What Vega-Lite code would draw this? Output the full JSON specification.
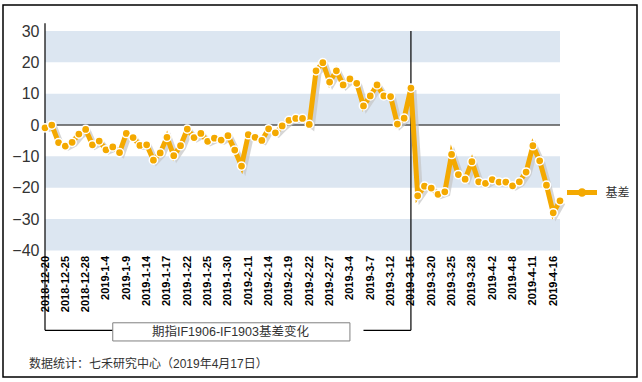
{
  "$schema": "https://vega.github.io/schema/vega-lite/v6.json",
  "width": 634,
  "height": 372,
  "autosize": "none",
  "padding": {"left": 3, "top": 5, "right": 5, "bottom": 5},
  "config": {
    "view": {"stroke": "#000000", "strokeWidth": 1.5},
    "font": "Liberation Sans, Noto Sans CJK SC",
    "axis": {"labelOverlap": false, "labelFont": "Liberation Sans"}
  },
  "datasets": {
    "basis": [
      {"date": "2018-12-20", "value": -0.9}, {"date": "2018-12-21", "value": 0.0}, {"date": "2018-12-24", "value": -5.6},
      {"date": "2018-12-25", "value": -6.7}, {"date": "2018-12-26", "value": -5.5}, {"date": "2018-12-27", "value": -2.9},
      {"date": "2018-12-28", "value": -1.4}, {"date": "2019-1-2", "value": -6.3}, {"date": "2019-1-3", "value": -5.1},
      {"date": "2019-1-4", "value": -7.9}, {"date": "2019-1-7", "value": -7.0}, {"date": "2019-1-8", "value": -8.8},
      {"date": "2019-1-9", "value": -2.7}, {"date": "2019-1-10", "value": -4.0}, {"date": "2019-1-11", "value": -6.5},
      {"date": "2019-1-14", "value": -6.3}, {"date": "2019-1-15", "value": -11.2}, {"date": "2019-1-16", "value": -8.9},
      {"date": "2019-1-17", "value": -3.9}, {"date": "2019-1-18", "value": -9.8}, {"date": "2019-1-21", "value": -6.6},
      {"date": "2019-1-22", "value": -1.3}, {"date": "2019-1-23", "value": -4.0}, {"date": "2019-1-24", "value": -2.7},
      {"date": "2019-1-25", "value": -5.2}, {"date": "2019-1-28", "value": -4.2}, {"date": "2019-1-29", "value": -4.8},
      {"date": "2019-1-30", "value": -3.4}, {"date": "2019-1-31", "value": -8.0}, {"date": "2019-2-1", "value": -13.1},
      {"date": "2019-2-11", "value": -3.1}, {"date": "2019-2-12", "value": -3.9}, {"date": "2019-2-13", "value": -4.9},
      {"date": "2019-2-14", "value": -1.2}, {"date": "2019-2-15", "value": -2.5}, {"date": "2019-2-18", "value": -0.3},
      {"date": "2019-2-19", "value": 1.5}, {"date": "2019-2-20", "value": 2.1}, {"date": "2019-2-21", "value": 2.1},
      {"date": "2019-2-22", "value": 0.2}, {"date": "2019-2-25", "value": 17.3}, {"date": "2019-2-26", "value": 19.9},
      {"date": "2019-2-27", "value": 13.7}, {"date": "2019-2-28", "value": 17.3}, {"date": "2019-3-1", "value": 12.8},
      {"date": "2019-3-4", "value": 14.7}, {"date": "2019-3-5", "value": 13.3}, {"date": "2019-3-6", "value": 6.1},
      {"date": "2019-3-7", "value": 9.3}, {"date": "2019-3-8", "value": 12.8}, {"date": "2019-3-11", "value": 9.3},
      {"date": "2019-3-12", "value": 9.1}, {"date": "2019-3-13", "value": 0.3}, {"date": "2019-3-14", "value": 2.2},
      {"date": "2019-3-15", "value": 11.8}, {"date": "2019-3-18", "value": -22.6}, {"date": "2019-3-19", "value": -19.5},
      {"date": "2019-3-20", "value": -20.1}, {"date": "2019-3-21", "value": -22.1}, {"date": "2019-3-22", "value": -21.3},
      {"date": "2019-3-25", "value": -9.4}, {"date": "2019-3-26", "value": -15.8}, {"date": "2019-3-27", "value": -17.3},
      {"date": "2019-3-28", "value": -11.7}, {"date": "2019-3-29", "value": -18.1}, {"date": "2019-4-1", "value": -18.6},
      {"date": "2019-4-2", "value": -17.4}, {"date": "2019-4-3", "value": -18.2}, {"date": "2019-4-4", "value": -18.2},
      {"date": "2019-4-8", "value": -19.4}, {"date": "2019-4-9", "value": -18.1}, {"date": "2019-4-10", "value": -15.0},
      {"date": "2019-4-11", "value": -6.6}, {"date": "2019-4-12", "value": -11.4}, {"date": "2019-4-15", "value": -19.2},
      {"date": "2019-4-16", "value": -28.0}, {"date": "2019-4-17", "value": -24.2}
    ],
    "bands": [
      {"lo": 20, "hi": 30}, {"lo": 0, "hi": 10}, {"lo": -20, "hi": -10}, {"lo": -40, "hi": -30}
    ]
  },
  "layer": [
    {
      "layer": [
        {
          "data": {"name": "bands"},
          "mark": {"type": "rect", "fill": "#DCE6F1"},
          "encoding": {
            "x": {
              "datum": "2018-12-20", "type": "nominal",
              "scale": {
                "type": "point", "padding": 0, "range": [42, 557],
                "domain": ["2018-12-20","2018-12-21","2018-12-24","2018-12-25","2018-12-26","2018-12-27","2018-12-28","2019-1-2","2019-1-3","2019-1-4","2019-1-7","2019-1-8","2019-1-9","2019-1-10","2019-1-11","2019-1-14","2019-1-15","2019-1-16","2019-1-17","2019-1-18","2019-1-21","2019-1-22","2019-1-23","2019-1-24","2019-1-25","2019-1-28","2019-1-29","2019-1-30","2019-1-31","2019-2-1","2019-2-11","2019-2-12","2019-2-13","2019-2-14","2019-2-15","2019-2-18","2019-2-19","2019-2-20","2019-2-21","2019-2-22","2019-2-25","2019-2-26","2019-2-27","2019-2-28","2019-3-1","2019-3-4","2019-3-5","2019-3-6","2019-3-7","2019-3-8","2019-3-11","2019-3-12","2019-3-13","2019-3-14","2019-3-15","2019-3-18","2019-3-19","2019-3-20","2019-3-21","2019-3-22","2019-3-25","2019-3-26","2019-3-27","2019-3-28","2019-3-29","2019-4-1","2019-4-2","2019-4-3","2019-4-4","2019-4-8","2019-4-9","2019-4-10","2019-4-11","2019-4-12","2019-4-15","2019-4-16","2019-4-17"]
              },
              "axis": {
                "orient": "bottom", "offset": -126.6, "title": null,
                "values": ["2018-12-20","2018-12-25","2018-12-28","2019-1-4","2019-1-9","2019-1-14","2019-1-17","2019-1-22","2019-1-25","2019-1-30","2019-2-11","2019-2-14","2019-2-19","2019-2-22","2019-2-27","2019-3-4","2019-3-7","2019-3-12","2019-3-15","2019-3-20","2019-3-25","2019-3-28","2019-4-2","2019-4-8","2019-4-11","2019-4-16"],
                "labelAngle": -90, "labelFontSize": 11, "labelFontWeight": "bold", "labelColor": "#000000",
                "labelPadding": 5, "domain": false, "ticks": false, "grid": false
              }
            },
            "x2": {"datum": "2019-4-17"},
            "y": {
              "field": "hi", "type": "quantitative",
              "scale": {"domain": [-80.4, 38.3], "nice": false, "zero": false},
              "axis": {
                "orient": "left", "offset": -40, "title": null,
                "values": [-40, -30, -20, -10, 0, 10, 20, 30],
                "labelFontSize": 16, "labelColor": "#333333", "labelPadding": 4,
                "domain": false, "ticks": false, "grid": false
              }
            },
            "y2": {"field": "lo"}
          }
        },
        {
          "data": {"values": [{}]},
          "mark": {"type": "rule", "stroke": "#555555", "strokeWidth": 1.5},
          "encoding": {
            "x": {"datum": "2018-12-20", "type": "nominal"},
            "x2": {"datum": "2019-4-17"},
            "y": {"datum": 0, "type": "quantitative"}
          }
        },
        {
          "data": {"values": [{}]},
          "mark": {"type": "rule", "stroke": "#000000", "strokeWidth": 1.2},
          "encoding": {
            "x": {"datum": "2018-12-20", "type": "nominal"},
            "y": {"datum": 32.5, "type": "quantitative"},
            "y2": {"datum": -65.5}
          }
        },
        {
          "data": {"values": [{}]},
          "mark": {"type": "rule", "stroke": "#000000", "strokeWidth": 1.2},
          "encoding": {
            "x": {"datum": "2019-3-15", "type": "nominal"},
            "y": {"datum": 30, "type": "quantitative"},
            "y2": {"datum": -65.5}
          }
        },
        {
          "data": {"values": [{}]},
          "mark": {"type": "rule", "stroke": "#000000", "strokeWidth": 1.2},
          "encoding": {
            "x": {"datum": "2018-12-20", "type": "nominal"},
            "x2": {"datum": "2019-1-7"},
            "y": {"datum": -65.5, "type": "quantitative"}
          }
        },
        {
          "data": {"values": [{}]},
          "mark": {"type": "rule", "stroke": "#000000", "strokeWidth": 1.2},
          "encoding": {
            "x": {"datum": "2019-3-6", "type": "nominal"},
            "x2": {"datum": "2019-3-15"},
            "y": {"datum": -65.5, "type": "quantitative"}
          }
        }
      ]
    },
    {
      "data": {"name": "basis"},
      "mark": {"type": "line", "stroke": "#C4C4C4", "strokeWidth": 5, "opacity": 0.7},
      "encoding": {
        "x": {
          "field": "date", "type": "nominal", "axis": null,
          "scale": {
            "type": "point", "padding": 0, "range": [45, 560],
            "domain": ["2018-12-20","2018-12-21","2018-12-24","2018-12-25","2018-12-26","2018-12-27","2018-12-28","2019-1-2","2019-1-3","2019-1-4","2019-1-7","2019-1-8","2019-1-9","2019-1-10","2019-1-11","2019-1-14","2019-1-15","2019-1-16","2019-1-17","2019-1-18","2019-1-21","2019-1-22","2019-1-23","2019-1-24","2019-1-25","2019-1-28","2019-1-29","2019-1-30","2019-1-31","2019-2-1","2019-2-11","2019-2-12","2019-2-13","2019-2-14","2019-2-15","2019-2-18","2019-2-19","2019-2-20","2019-2-21","2019-2-22","2019-2-25","2019-2-26","2019-2-27","2019-2-28","2019-3-1","2019-3-4","2019-3-5","2019-3-6","2019-3-7","2019-3-8","2019-3-11","2019-3-12","2019-3-13","2019-3-14","2019-3-15","2019-3-18","2019-3-19","2019-3-20","2019-3-21","2019-3-22","2019-3-25","2019-3-26","2019-3-27","2019-3-28","2019-3-29","2019-4-1","2019-4-2","2019-4-3","2019-4-4","2019-4-8","2019-4-9","2019-4-10","2019-4-11","2019-4-12","2019-4-15","2019-4-16","2019-4-17"]
          }
        },
        "y": {
          "field": "value", "type": "quantitative", "axis": null,
          "scale": {"domain": [-79.76, 38.94], "nice": false, "zero": false}
        }
      }
    },
    {
      "layer": [
        {
          "data": {"name": "basis"},
          "mark": {"type": "line", "strokeWidth": 5},
          "encoding": {
            "x": {
              "field": "date", "type": "nominal", "axis": null,
              "scale": {
                "type": "point", "padding": 0, "range": [42, 557],
                "domain": ["2018-12-20","2018-12-21","2018-12-24","2018-12-25","2018-12-26","2018-12-27","2018-12-28","2019-1-2","2019-1-3","2019-1-4","2019-1-7","2019-1-8","2019-1-9","2019-1-10","2019-1-11","2019-1-14","2019-1-15","2019-1-16","2019-1-17","2019-1-18","2019-1-21","2019-1-22","2019-1-23","2019-1-24","2019-1-25","2019-1-28","2019-1-29","2019-1-30","2019-1-31","2019-2-1","2019-2-11","2019-2-12","2019-2-13","2019-2-14","2019-2-15","2019-2-18","2019-2-19","2019-2-20","2019-2-21","2019-2-22","2019-2-25","2019-2-26","2019-2-27","2019-2-28","2019-3-1","2019-3-4","2019-3-5","2019-3-6","2019-3-7","2019-3-8","2019-3-11","2019-3-12","2019-3-13","2019-3-14","2019-3-15","2019-3-18","2019-3-19","2019-3-20","2019-3-21","2019-3-22","2019-3-25","2019-3-26","2019-3-27","2019-3-28","2019-3-29","2019-4-1","2019-4-2","2019-4-3","2019-4-4","2019-4-8","2019-4-9","2019-4-10","2019-4-11","2019-4-12","2019-4-15","2019-4-16","2019-4-17"]
              }
            },
            "y": {
              "field": "value", "type": "quantitative", "axis": null,
              "scale": {"domain": [-80.4, 38.3], "nice": false, "zero": false}
            },
            "color": {
              "datum": "基差", "type": "nominal",
              "scale": {"range": ["#F4A900"]},
              "legend": {
                "orient": "none", "legendX": 561.5, "legendY": 170, "title": null, "padding": 0,
                "symbolType": "M-1,0L1,0M0.12,0A0.12,0.12,0,1,1,-0.12,0A0.12,0.12,0,1,1,0.12,0Z",
                "symbolSize": 900, "symbolStrokeWidth": 5, "symbolFillColor": "#F4A900", "symbolStrokeColor": "#F4A900",
                "labelFontSize": 12, "labelColor": "#333333", "labelOffset": 6,
                "labelFont": "Noto Sans CJK SC"
              }
            }
          }
        },
        {
          "data": {"name": "basis"},
          "mark": {"type": "point", "filled": true, "fill": "#F4A900", "stroke": "#FFFFFF", "strokeWidth": 1.5, "size": 68, "opacity": 1},
          "encoding": {
            "x": {"field": "date", "type": "nominal"},
            "y": {"field": "value", "type": "quantitative"}
          }
        },
        {
          "data": {"values": [{}]},
          "mark": {"type": "rect", "fill": "#FFFFFF", "stroke": "#808080", "strokeWidth": 1},
          "encoding": {
            "x": {"datum": "2019-1-7", "type": "nominal"},
            "x2": {"datum": "2019-3-4"},
            "y": {"datum": -63.1, "type": "quantitative"},
            "y2": {"datum": -68.9}
          }
        },
        {
          "data": {"values": [{}]},
          "mark": {"type": "text", "text": "期指IF1906-IF1903基差变化", "fontSize": 12.5, "color": "#333333", "align": "center", "baseline": "middle", "dx": 2.5},
          "encoding": {
            "x": {"datum": "2019-1-30", "type": "nominal"},
            "y": {"datum": -66.1, "type": "quantitative"}
          }
        },
        {
          "data": {"values": [{}]},
          "mark": {"type": "text", "text": "数据统计：七禾研究中心（2019年4月17日）", "fontSize": 12, "color": "#333333", "align": "left", "baseline": "middle", "dx": -16},
          "encoding": {
            "x": {"datum": "2018-12-20", "type": "nominal"},
            "y": {"datum": -76.3, "type": "quantitative"}
          }
        }
      ]
    }
  ],
  "resolve": {"scale": {"x": "independent", "y": "independent"}, "axis": {"x": "independent", "y": "independent"}}
}
